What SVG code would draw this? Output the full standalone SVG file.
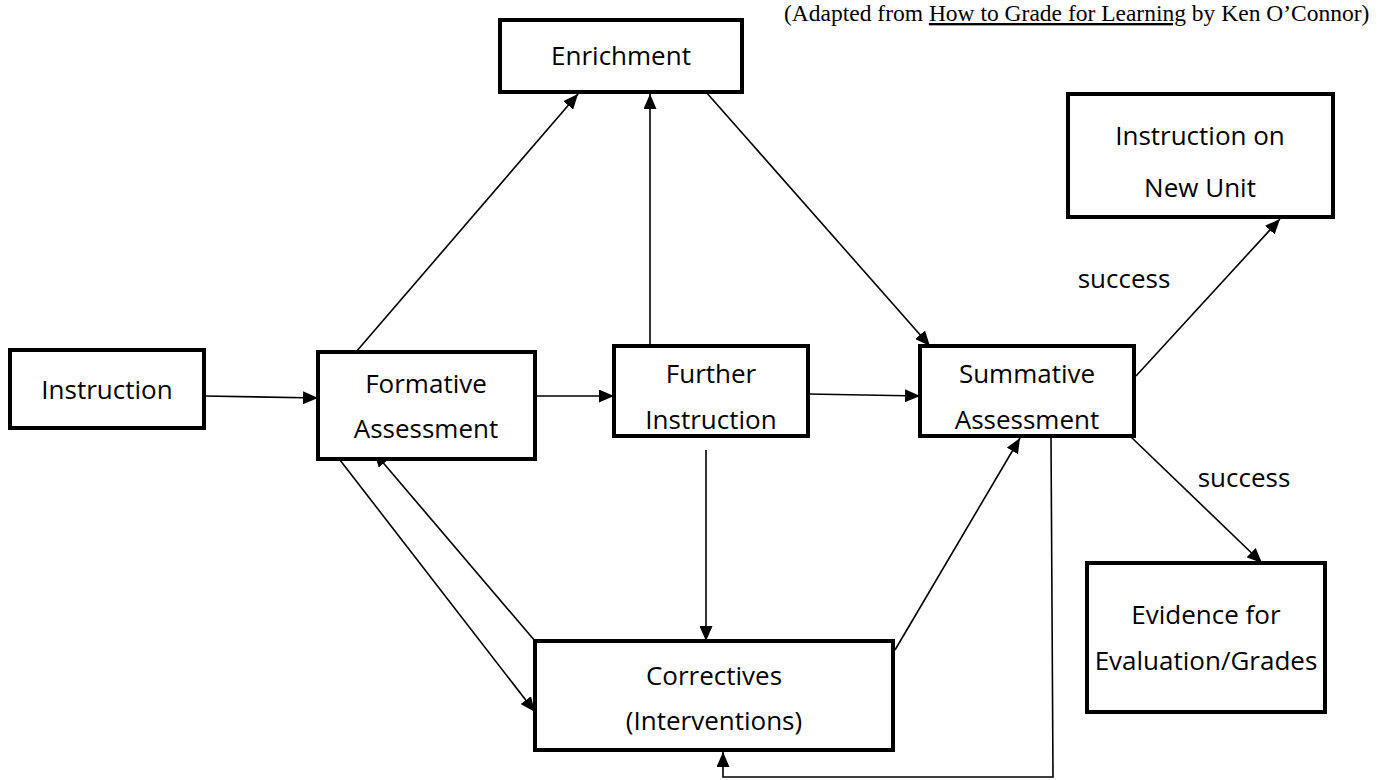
<svg xmlns="http://www.w3.org/2000/svg" width="1380" height="780" viewBox="0 0 1380 780">
<style>
.box{fill:#fff;stroke:#000;stroke-width:4}
.t{font-family:"Open Sans","Liberation Sans",sans-serif;font-size:26px;fill:#000;text-anchor:middle}
.c{fill:none;stroke:#000;stroke-width:1.6}
.src{font-family:"Liberation Serif",serif;font-size:23.5px;fill:#000}
</style>
<defs>
<marker id="ah" viewBox="0 0 10 10" refX="10" refY="5" markerWidth="15" markerHeight="13" markerUnits="userSpaceOnUse" orient="auto" preserveAspectRatio="none"><path d="M0,0L10,5L0,10z" fill="#000"/></marker>
</defs>
<rect width="1380" height="780" fill="#fff"/>
<text class="src" x="784" y="21">(Adapted from <tspan text-decoration="underline">How to Grade for Learning</tspan> by Ken O’Connor)</text>
<g id="connectors">
<line class="c" x1="204" y1="396" x2="318" y2="398" marker-end="url(#ah)"/>
<line class="c" x1="535" y1="396" x2="614" y2="396" marker-end="url(#ah)"/>
<line class="c" x1="808" y1="394" x2="920" y2="396" marker-end="url(#ah)"/>
<line class="c" x1="356" y1="352" x2="578" y2="94" marker-end="url(#ah)"/>
<line class="c" x1="650" y1="346" x2="650" y2="94" marker-end="url(#ah)"/>
<line class="c" x1="706" y1="92" x2="930" y2="346" marker-end="url(#ah)"/>
<line class="c" x1="1136" y1="376" x2="1280" y2="219" marker-end="url(#ah)"/>
<line class="c" x1="1130" y1="436" x2="1262" y2="563" marker-end="url(#ah)"/>
<line class="c" x1="333" y1="451" x2="535" y2="712" marker-end="url(#ah)"/>
<line class="c" x1="535" y1="641" x2="374" y2="452" marker-end="url(#ah)"/>
<line class="c" x1="706" y1="450" x2="706" y2="641" marker-end="url(#ah)"/>
<line class="c" x1="895" y1="650" x2="1020" y2="438" marker-end="url(#ah)"/>
<polyline class="c" points="1051,436 1053,777 723,777 723,752" marker-end="url(#ah)"/>
</g>
<g id="enrichment"><rect class="box" x="500" y="20" width="242" height="72"/><text class="t" x="621" y="65">Enrichment</text></g>
<g id="new-unit"><rect class="box" x="1068" y="94" width="265" height="123"/><text class="t" x="1200" y="145">Instruction on</text><text class="t" x="1200" y="197">New Unit</text></g>
<g id="instruction"><rect class="box" x="10" y="350" width="194" height="78"/><text class="t" x="107" y="399">Instruction</text></g>
<g id="formative"><rect class="box" x="318" y="352" width="217" height="107"/><text class="t" x="426" y="393">Formative</text><text class="t" x="426" y="438">Assessment</text></g>
<g id="further"><rect class="box" x="614" y="346" width="194" height="90"/><text class="t" x="711" y="383">Further</text><text class="t" x="711" y="429">Instruction</text></g>
<g id="summative"><rect class="box" x="920" y="346" width="214" height="90"/><text class="t" x="1027" y="383">Summative</text><text class="t" x="1027" y="429">Assessment</text></g>
<g id="evidence"><rect class="box" x="1087" y="563" width="238" height="149"/><text class="t" x="1206" y="624">Evidence for</text><text class="t" x="1206" y="670">Evaluation/Grades</text></g>
<g id="correctives"><rect class="box" x="535" y="641" width="358" height="109"/><text class="t" x="714" y="685">Correctives</text><text class="t" x="714" y="730">(Interventions)</text></g>
<g id="labels"><text class="t" x="1124" y="288">success</text><text class="t" x="1244" y="487">success</text></g>
</svg>
